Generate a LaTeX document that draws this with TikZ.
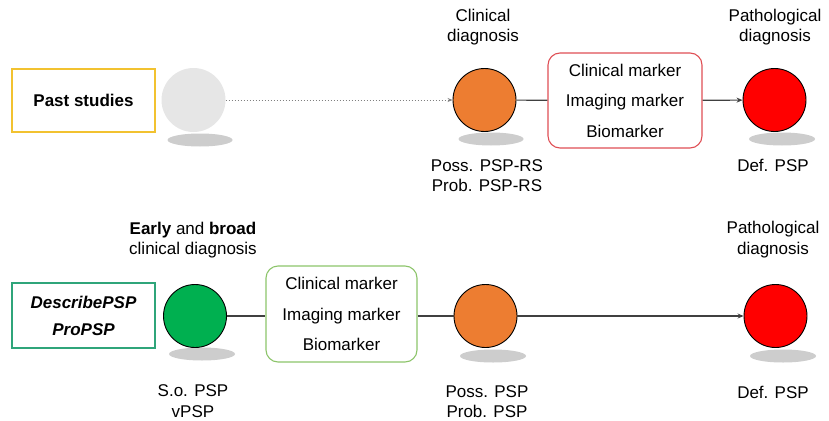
\documentclass[tikz,border=0pt]{standalone}
\usepackage{fontspec}
\setmainfont{Liberation Sans}
\usetikzlibrary{arrows.meta}
\definecolor{pastgray}{HTML}{E6E6E6}
\definecolor{shadowgray}{HTML}{CDCDCD}
\definecolor{orangefill}{HTML}{ED7D31}
\definecolor{redfill}{HTML}{FF0000}
\definecolor{greenfill}{HTML}{00B050}
\definecolor{yellowline}{HTML}{F2C230}
\definecolor{tealline}{HTML}{2FA57A}
\definecolor{redline}{HTML}{DF4F55}
\definecolor{lightgreenline}{HTML}{8CC46A}
\definecolor{linegray}{HTML}{404040}
\begin{document}
\begin{tikzpicture}[x=1pt,y=-1pt,
  txt/.style={font=\fontsize{17}{20.5}\selectfont, align=center, inner sep=0pt},
  dot/.style={circle, minimum size=63pt, inner sep=0pt, draw=black, line width=0.9pt},
  studybox/.style={draw, line width=1.1pt, minimum width=143pt, inner sep=0pt, align=center, font=\fontsize{17}{27}\selectfont\bfseries},
  markerbox/.style={draw, line width=1.1pt, rounded corners=12pt, inner sep=0pt, align=center, font=\fontsize{17}{30.5}\selectfont},
  conn/.style={draw=linegray, line width=1.2pt},
  arr/.style={conn, -{Stealth[length=6pt,width=5pt]}},
  shadow/.style={fill=shadowgray}
]
\useasboundingbox (0,0) rectangle (829,420);

% ---------- top row ----------
\node[studybox, draw=yellowline, minimum height=63pt] (past) at (83.5,100.5) {Past studies};
\fill[shadow] (200,140) ellipse [x radius=32.5, y radius=6.5];
\node[circle, minimum size=64pt, inner sep=0pt, fill=pastgray] (gray) at (193.5,100) {};

\fill[shadow] (491,139) ellipse [x radius=32.5, y radius=6.5];
\node[dot, fill=orangefill] (orange1) at (484.5,100) {};
\node[txt] (clin) at (483,27) {Clinical\\diagnosis};
\node[txt] (poss1) at (487,175.5) {Poss. PSP-RS\\Prob. PSP-RS};

\node[markerbox, draw=redline, minimum width=154pt, minimum height=95pt] (mark1) at (625,100.5) {Clinical marker\\Imaging marker\\Biomarker};

\fill[shadow] (782,139) ellipse [x radius=33, y radius=6.5];
\node[dot, fill=redfill] (red1) at (774.5,100) {};
\node[txt] (path1) at (775,27) {Pathological\\diagnosis};
\node[txt] (def1) at (773,165) {Def. PSP};

\draw[draw=gray, line width=1pt, dotted, -{Stealth[length=5pt,width=4pt]}] (gray) -- (orange1);
\draw[conn] (orange1) -- (mark1);
\draw[arr] (mark1) -- (red1);

% ---------- bottom row ----------
\node[studybox, draw=tealline, minimum height=65pt, font=\fontsize{17}{27}\selectfont\bfseries\itshape] (desc) at (83.5,315.5) {DescribePSP\\ProPSP};
\fill[shadow] (202,354) ellipse [x radius=33, y radius=6.5];
\node[dot, fill=greenfill] (green) at (195,316) {};
\node[txt] (early) at (193,240) {\textbf{Early} and \textbf{broad}\\clinical diagnosis};
\node[txt] (so) at (193,401) {S.o. PSP\\vPSP};

\node[markerbox, draw=lightgreenline, minimum width=151pt, minimum height=96pt] (mark2) at (341.5,314) {Clinical marker\\Imaging marker\\Biomarker};

\fill[shadow] (493,356) ellipse [x radius=33, y radius=6.5];
\node[dot, fill=orangefill] (orange2) at (485.5,316) {};
\node[txt] (poss2) at (487,401.5) {Poss. PSP\\Prob. PSP};

\fill[shadow] (783,356) ellipse [x radius=33, y radius=6.5];
\node[dot, fill=redfill] (red2) at (775.5,316) {};
\node[txt] (path2) at (773,239.5) {Pathological\\diagnosis};
\node[txt] (def2) at (773,392) {Def. PSP};

\draw[conn] (green) -- (green -| mark2.west);
\draw[conn] (mark2.east |- orange2) -- (orange2);
\draw[arr] (orange2) -- (red2);
\end{tikzpicture}
\end{document}
